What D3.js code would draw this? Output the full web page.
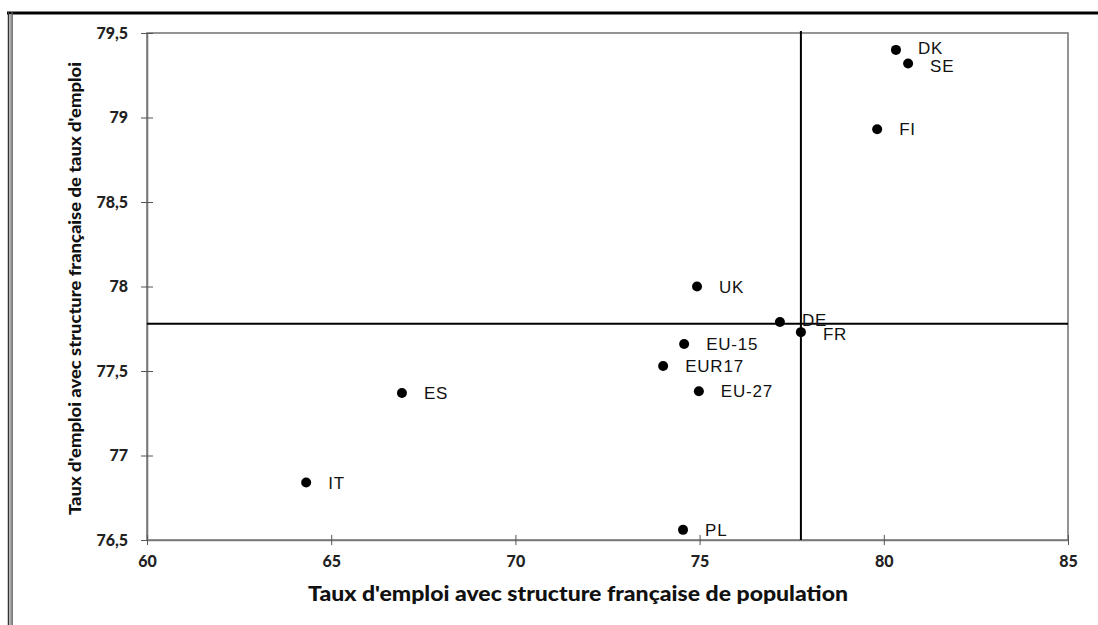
<!DOCTYPE html>
<html><head><meta charset="utf-8">
<script src="https://cdn.jsdelivr.net/npm/d3@7"></script>
<style>
html,body{margin:0;padding:0;background:#fff;}
svg{display:block;}
</style>
</head><body>
<svg id="chart" width="1098" height="625"></svg>
<script>
// ---- data ----
const countries = ["DK","SE","FI","UK","DE","FR","EU-15","EUR17","EU-27","ES","IT","PL"];
const xValues   = [80.33, 80.66, 79.82, 74.93, 77.18, 77.75, 74.58, 74.01, 74.98, 66.92, 64.32, 74.55];
const yValues   = [79.40, 79.32, 78.93, 78.00, 77.79, 77.73, 77.66, 77.53, 77.38, 77.37, 76.84, 76.56];
const labelNudge = [-2, 2, 0, 0, -2, 2, 0, 0, 0, 0, 0, 0];
const xTicks = [60, 65, 70, 75, 80, 85];
const yTicks = [76.5, 77, 77.5, 78, 78.5, 79, 79.5];
const refX = 77.75;   // vertical reference line
const refY = 77.78;   // horizontal reference line
const xTitle = "Taux d'emploi avec structure française de population";
const yTitle = "Taux d'emploi avec structure française de taux d'emploi";

(function () {
const svg = d3.select("#chart");
const mLeft = 147, mRight = 1068, mTop = 33, mBottom = 540;

const x = d3.scaleLinear().domain([60, 85]).range([mLeft, mRight]);
const y = d3.scaleLinear().domain([76.5, 79.5]).range([mBottom, mTop]);
const fmt = d => String(d).replace(".", ",");
const boldFont = "Lato, 'Open Sans', sans-serif";

// outer frame (scanned page)
svg.append("line").attr("x1", 7).attr("x2", 1098).attr("y1", 13).attr("y2", 13)
  .attr("stroke", "#000").attr("stroke-width", 3);
svg.append("line").attr("x1", 8.5).attr("x2", 8.5).attr("y1", 12).attr("y2", 625)
  .attr("stroke", "#333").attr("stroke-width", 1.5);
svg.append("line").attr("x1", 12).attr("x2", 12).attr("y1", 12).attr("y2", 625)
  .attr("stroke", "#555").attr("stroke-width", 1.5);
svg.append("rect").attr("x", 9.3).attr("y", 14).attr("width", 2).attr("height", 611)
  .attr("fill", "#aaa");

// plot box
svg.append("rect").attr("x", mLeft).attr("y", mTop).attr("width", mRight - mLeft).attr("height", mBottom - mTop)
  .attr("fill", "none").attr("stroke", "#7a7a7a").attr("stroke-width", 1.6);

// axes
const gy = svg.append("g").attr("transform", `translate(${mLeft},0)`)
  .call(d3.axisLeft(y).tickValues(yTicks).tickFormat(fmt).tickSize(6).tickSizeOuter(0).tickPadding(13));
gy.select(".domain").attr("stroke", "#7a7a7a").attr("stroke-width", 1.6);
gy.selectAll(".tick line").attr("x1", 6).attr("stroke", "#555");
gy.selectAll(".tick text").attr("font-family", boldFont)
  .attr("font-weight", "900").attr("font-size", 16).attr("fill", "#222");

const gx = svg.append("g").attr("transform", `translate(0,${mBottom})`)
  .call(d3.axisBottom(x).tickValues(xTicks).tickSize(5).tickSizeOuter(0).tickPadding(11));
gx.select(".domain").attr("stroke", "#7a7a7a").attr("stroke-width", 1.6);
gx.selectAll(".tick line").attr("y1", -5).attr("stroke", "#555");
gx.selectAll(".tick text").attr("font-family", boldFont)
  .attr("font-weight", "900").attr("font-size", 16).attr("fill", "#222");

// reference lines
svg.append("line").attr("x1", x(refX)).attr("x2", x(refX)).attr("y1", mTop - 2).attr("y2", mBottom)
  .attr("stroke", "#000").attr("stroke-width", 2);
svg.append("line").attr("x1", mLeft).attr("x2", mRight).attr("y1", y(refY)).attr("y2", y(refY))
  .attr("stroke", "#000").attr("stroke-width", 2);

// points
const data = countries.map((c, i) => ({c, xv: xValues[i], yv: yValues[i], n: labelNudge[i]}));
svg.append("g").selectAll("circle").data(data).join("circle")
  .attr("cx", d => x(d.xv)).attr("cy", d => y(d.yv)).attr("r", 5).attr("fill", "#000");
svg.append("g").selectAll("text").data(data).join("text")
  .attr("x", d => x(d.xv) + 22).attr("y", d => y(d.yv) + d.n).attr("dy", "0.36em")
  .attr("font-family", "'Liberation Sans', Arial, sans-serif").attr("font-size", 17)
  .attr("letter-spacing", 0.8).attr("fill", "#111").text(d => d.c);

// axis titles
svg.append("text").attr("x", 308).attr("y", 601)
  .attr("font-family", boldFont).attr("font-weight", "900").attr("font-size", 20)
  .attr("textLength", 540).attr("lengthAdjust", "spacingAndGlyphs")
  .attr("fill", "#111").text(xTitle);
svg.append("text").attr("transform", `translate(81,515) rotate(-90)`)
  .attr("font-family", boldFont).attr("font-weight", "900").attr("font-size", 17)
  .attr("textLength", 453).attr("lengthAdjust", "spacingAndGlyphs")
  .attr("fill", "#111").text(yTitle);
})();
</script>
</body></html>
